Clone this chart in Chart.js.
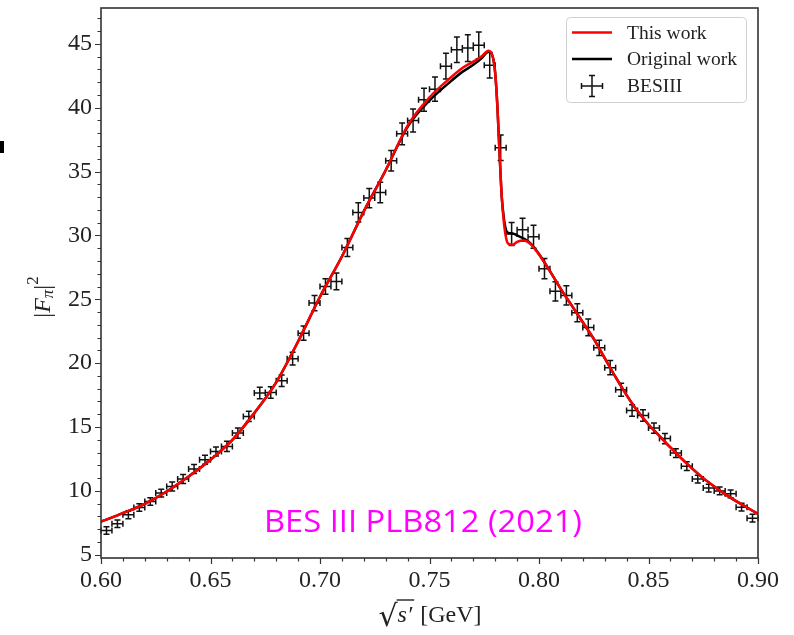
<!DOCTYPE html>
<html>
<head>
<meta charset="utf-8">
<script src="https://cdn.jsdelivr.net/npm/chart.js@4.4.0/dist/chart.umd.min.js"></script>
<style>
  html, body { margin: 0; padding: 0; background: #fff; }
  #wrap { position: relative; width: 794px; height: 635px; }
</style>
</head>
<body>
<div id="wrap"><canvas id="chart" width="794" height="635"></canvas></div>
<script>
// BESIII points: bin centres (GeV), |F_pi|^2 and its error
const energies = [
  0.6025, 0.6075, 0.6125, 0.6175, 0.6225, 0.6275, 0.6325, 0.6375, 0.6425, 0.6475,
  0.6525, 0.6575, 0.6625, 0.6675, 0.6725, 0.6775, 0.6825, 0.6875, 0.6925, 0.6975,
  0.7025, 0.7075, 0.7125, 0.7175, 0.7225, 0.7275, 0.7325, 0.7375, 0.7425, 0.7475,
  0.7525, 0.7575, 0.7625, 0.7675, 0.7725, 0.7775, 0.7825, 0.7875, 0.7925, 0.7975,
  0.8025, 0.8075, 0.8125, 0.8175, 0.8225, 0.8275, 0.8325, 0.8375, 0.8425, 0.8475,
  0.8525, 0.8575, 0.8625, 0.8675, 0.8725, 0.8775, 0.8825, 0.8875, 0.8925, 0.8975
];
const formFactor = [
  6.9, 7.43, 8.13, 8.7, 9.17, 9.83, 10.35, 10.93, 11.71, 12.44,
  13.09, 13.48, 14.53, 15.83, 17.66, 17.7, 18.62, 20.35, 22.35, 24.7,
  26.0, 26.4, 29.05, 31.8, 32.92, 33.36, 35.85, 37.95, 39.0, 40.62,
  41.45, 43.25, 44.53, 44.66, 44.88, 43.32, 36.86, 30.12, 30.44, 29.9,
  27.4, 25.62, 25.3, 23.95, 22.8, 21.2, 19.65, 17.92, 16.3, 15.9,
  14.92, 14.1, 12.96, 11.94, 10.93, 10.22, 10.0, 9.77, 8.73, 7.87
];
const formFactorErr = [
  0.3, 0.3, 0.3, 0.3, 0.3, 0.3, 0.35, 0.35, 0.35, 0.35,
  0.35, 0.4, 0.4, 0.4, 0.45, 0.45, 0.45, 0.5, 0.55, 0.6,
  0.6, 0.65, 0.7, 0.75, 0.75, 0.8, 0.8, 0.85, 0.9, 0.9,
  0.95, 1.0, 1.0, 1.05, 1.05, 1.0, 1.0, 0.9, 0.9, 0.9,
  0.8, 0.75, 0.75, 0.7, 0.65, 0.6, 0.55, 0.5, 0.45, 0.45,
  0.4, 0.4, 0.35, 0.35, 0.3, 0.3, 0.3, 0.3, 0.3, 0.3
];
const binHalfWidth = 0.0025;

// model curves, sampled on the same energies
const curveEnergies = [
  0.600, 0.610, 0.620, 0.630, 0.640, 0.650, 0.660, 0.670, 0.680, 0.690,
  0.700, 0.710, 0.720, 0.730, 0.740, 0.750, 0.760, 0.765, 0.770, 0.774,
  0.777, 0.779, 0.780, 0.781, 0.782, 0.783, 0.784, 0.785, 0.786, 0.788,
  0.790, 0.793, 0.796, 0.800, 0.805, 0.810, 0.815, 0.820, 0.825, 0.830,
  0.835, 0.840, 0.845, 0.850, 0.855, 0.860, 0.865, 0.870, 0.875, 0.880,
  0.885, 0.890, 0.895, 0.900
];
const thisWork = [
  7.6, 8.26, 8.99, 9.96, 11.13, 12.44, 14.0, 16.09, 18.5, 21.7,
  25.2, 28.35, 31.88, 35.1, 38.6, 40.8, 42.4, 43.1, 43.6, 44.05,
  44.45, 43.9, 42.7, 40.1, 36.4, 33.0, 30.96, 29.78, 29.34, 29.26,
  29.5, 29.6, 29.35, 28.5, 27.2, 25.8, 24.5, 23.2, 21.9, 20.4,
  18.9, 17.5, 16.25, 15.2, 14.3, 13.4, 12.55, 11.75, 11.0, 10.35,
  9.75, 9.2, 8.7, 8.2
];
const originalWork = [
  7.6, 8.26, 8.99, 9.96, 11.13, 12.44, 14.0, 16.09, 18.5, 21.7,
  25.2, 28.35, 31.88, 35.1, 38.5, 40.55, 42.1, 42.8, 43.35, 43.9,
  44.4, 43.9, 42.7, 40.1, 36.4, 33.0, 31.3, 30.4, 30.2, 30.15,
  30.0, 29.75, 29.4, 28.55, 27.2, 25.8, 24.5, 23.2, 21.9, 20.4,
  18.9, 17.5, 16.25, 15.2, 14.3, 13.4, 12.55, 11.75, 11.0, 10.35,
  9.75, 9.2, 8.7, 8.2
];

const xTicks = [0.60, 0.65, 0.70, 0.75, 0.80, 0.85, 0.90];
const yTicks = [5, 10, 15, 20, 25, 30, 35, 40, 45];

const serif = '"Liberation Serif", "DejaVu Serif", serif';
const ink = '#222';

const toPoints = (xs, ys) => xs.map((x, i) => ({ x: x, y: ys[i] }));

function errorCross(ctx, px, py, left, right, top, bottom, cap) {
  ctx.moveTo(px, top); ctx.lineTo(px, bottom);
  ctx.moveTo(left, py); ctx.lineTo(right, py);
  ctx.moveTo(px - cap, top); ctx.lineTo(px + cap, top);
  ctx.moveTo(px - cap, bottom); ctx.lineTo(px + cap, bottom);
  ctx.moveTo(left, py - cap); ctx.lineTo(left, py + cap);
  ctx.moveTo(right, py - cap); ctx.lineTo(right, py + cap);
}

const decorations = {
  id: 'decorations',
  beforeDatasetsDraw(chart) {
    const { ctx, scales: { x, y } } = chart;
    ctx.save();
    ctx.strokeStyle = '#111';
    ctx.lineWidth = 1.5;
    ctx.beginPath();
    energies.forEach((e, i) => {
      const v = formFactor[i], err = formFactorErr[i];
      errorCross(ctx,
        x.getPixelForValue(e), y.getPixelForValue(v),
        x.getPixelForValue(e - binHalfWidth), x.getPixelForValue(e + binHalfWidth),
        y.getPixelForValue(v + err), y.getPixelForValue(v - err), 3);
    });
    ctx.stroke();
    ctx.restore();
  },
  afterDraw(chart) {
    const { ctx, chartArea: a, scales: { x, y } } = chart;
    ctx.save();

    // frame
    ctx.strokeStyle = '#333';
    ctx.lineWidth = 1.6;
    ctx.strokeRect(a.left, a.top, a.right - a.left, a.bottom - a.top);

    // ticks (outward), majors and minors
    ctx.lineWidth = 1.2;
    ctx.beginPath();
    for (let k = 0; k <= 30; k++) {
      const v = 0.60 + k * 0.01;
      const px = Math.round(x.getPixelForValue(v)) + 0.5;
      const len = k % 5 === 0 ? 6 : 3.5;
      ctx.moveTo(px, a.bottom); ctx.lineTo(px, a.bottom + len);
    }
    for (let v = 5; v <= 47; v++) {
      const py = Math.round(y.getPixelForValue(v)) + 0.5;
      const len = v % 5 === 0 ? 6 : 3.5;
      ctx.moveTo(a.left, py); ctx.lineTo(a.left - len, py);
    }
    ctx.stroke();

    // legend
    const lx = 566.5, ly = 17.5, lw = 180, lh = 85;
    ctx.fillStyle = 'rgba(255,255,255,0.85)';
    ctx.strokeStyle = '#d0d0d0';
    ctx.lineWidth = 1;
    ctx.beginPath();
    ctx.roundRect(lx, ly, lw, lh, 4);
    ctx.fill(); ctx.stroke();

    const rows = [32.5, 59, 86];
    ctx.lineWidth = 2.5;
    ctx.strokeStyle = '#ff0000';
    ctx.beginPath(); ctx.moveTo(572, rows[0]); ctx.lineTo(612, rows[0]); ctx.stroke();
    ctx.strokeStyle = '#000';
    ctx.beginPath(); ctx.moveTo(572, rows[1]); ctx.lineTo(612, rows[1]); ctx.stroke();
    ctx.strokeStyle = '#111';
    ctx.lineWidth = 1.5;
    ctx.beginPath();
    errorCross(ctx, 592, rows[2], 581.5, 602.5, 75.5, 96.5, 3);
    ctx.stroke();

    ctx.fillStyle = ink;
    ctx.font = '19.5px ' + serif;
    ctx.textBaseline = 'middle';
    ctx.textAlign = 'left';
    ['This work', 'Original work', 'BESIII'].forEach((t, i) => ctx.fillText(t, 627, rows[i] + 1));

    // y axis title |F_pi|^2
    ctx.save();
    ctx.translate(44, 297);
    ctx.rotate(-Math.PI / 2);
    const big = '24px ' + serif, bigIt = 'italic 24px ' + serif;
    const small = '17px ' + serif, smallIt = 'italic 17px ' + serif;
    const parts = [
      { t: '|', f: big, dy: 0 },
      { t: 'F', f: bigIt, dy: 0 },
      { t: 'π', f: smallIt, dy: 5 },
      { t: '|', f: big, dy: 0 },
      { t: '2', f: small, dy: -10 }
    ];
    let total = 0;
    parts.forEach(p => { ctx.font = p.f; p.w = ctx.measureText(p.t).width; total += p.w; });
    let cx = -total / 2;
    ctx.textAlign = 'left';
    ctx.textBaseline = 'middle';
    parts.forEach(p => { ctx.font = p.f; ctx.fillText(p.t, cx, p.dy); cx += p.w; });
    ctx.restore();

    // x axis title sqrt(s') [GeV]
    const base = 622;
    ctx.textBaseline = 'alphabetic';
    ctx.font = '30px "DejaVu Serif", serif';
    const rad = '√';
    const rw = ctx.measureText(rad).width;
    ctx.font = 'italic 24px ' + serif;
    const sw = ctx.measureText('s′').width + 2;
    ctx.font = '24px ' + serif;
    const gw = ctx.measureText(' [GeV]').width;
    let sx = 430 - (rw + sw + gw) / 2;
    ctx.font = '30px "DejaVu Serif", serif';
    ctx.fillText(rad, sx, base + 4);
    const barY = base - 22;
    ctx.strokeStyle = ink;
    ctx.lineWidth = 1.4;
    ctx.beginPath();
    ctx.moveTo(sx + rw - 1, barY); ctx.lineTo(sx + rw + sw, barY);
    ctx.stroke();
    sx += rw;
    ctx.font = 'italic 24px ' + serif;
    ctx.fillText('s′', sx, base);
    sx += sw;
    ctx.font = '24px ' + serif;
    ctx.fillText(' [GeV]', sx, base);

    // annotation
    const note = 'BES III PLB812 (2021)';
    ctx.font = '31px "Open Sans", "Noto Sans", sans-serif';
    const nw = ctx.measureText(note).width;
    ctx.save();
    ctx.translate(264, 532);
    ctx.scale(318 / nw, 1);
    ctx.fillStyle = '#ff00ff';
    ctx.textAlign = 'left';
    ctx.fillText(note, 0, 0);
    ctx.restore();

    // stray mark at the left edge of the source figure
    ctx.fillStyle = '#000';
    ctx.fillRect(0, 141, 4, 12);

    ctx.restore();
  }
};

new Chart(document.getElementById('chart'), {
  type: 'scatter',
  data: {
    datasets: [
      {
        label: 'This work',
        data: toPoints(curveEnergies, thisWork),
        showLine: true,
        borderColor: '#ff0000',
        borderWidth: 2.5,
        pointRadius: 0,
        cubicInterpolationMode: 'monotone'
      },
      {
        label: 'Original work',
        data: toPoints(curveEnergies, originalWork),
        showLine: true,
        borderColor: '#000000',
        borderWidth: 2.5,
        pointRadius: 0,
        cubicInterpolationMode: 'monotone'
      },
      {
        label: 'BESIII',
        data: toPoints(energies, formFactor),
        showLine: false,
        pointRadius: 0
      }
    ]
  },
  options: {
    responsive: false,
    animation: false,
    events: [],
    layout: { padding: { left: 0, right: 36, top: 8, bottom: 0 } },
    plugins: { legend: { display: false }, tooltip: { enabled: false } },
    scales: {
      x: {
        type: 'linear',
        min: 0.6,
        max: 0.9,
        afterBuildTicks: s => { s.ticks = xTicks.map(v => ({ value: v })); },
        afterFit: s => { s.height = 77; s.paddingLeft = 0; s.paddingRight = 0; },
        grid: { display: false, drawTicks: false },
        border: { display: false },
        ticks: {
          padding: 8,
          color: ink,
          font: { family: serif, size: 24 },
          maxRotation: 0,
          autoSkip: false,
          callback: v => v.toFixed(2)
        }
      },
      y: {
        type: 'linear',
        min: 4.75,
        max: 47.8,
        afterBuildTicks: s => { s.ticks = yTicks.map(v => ({ value: v })); },
        afterFit: s => { s.width = 101; s.paddingTop = 0; s.paddingBottom = 0; },
        grid: { display: false, drawTicks: false },
        border: { display: false },
        ticks: {
          padding: 9,
          color: ink,
          font: { family: serif, size: 24 },
          autoSkip: false,
          callback: v => String(v)
        }
      }
    }
  },
  plugins: [decorations]
});
</script>
</body>
</html>
